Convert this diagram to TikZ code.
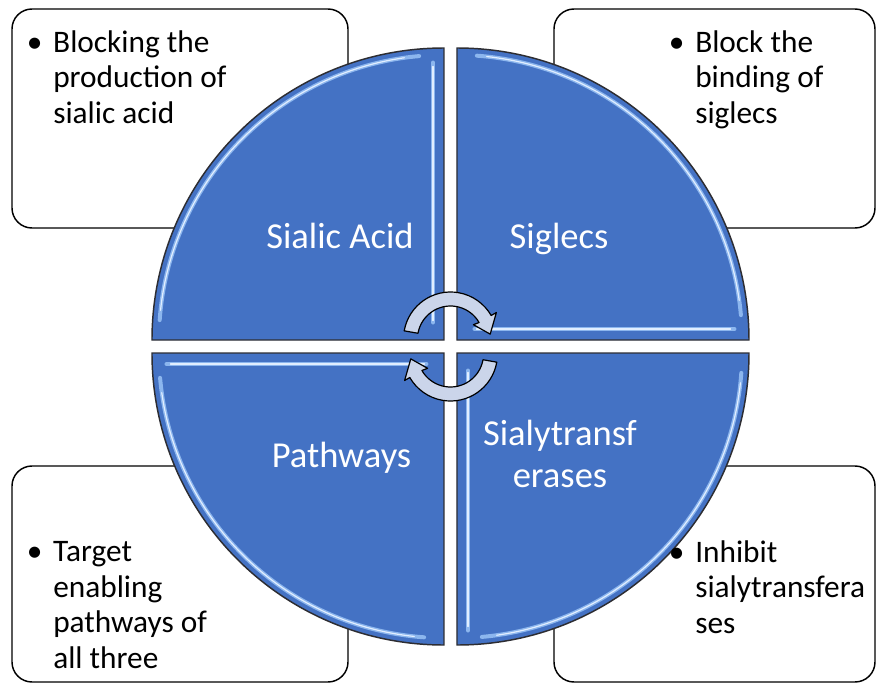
\documentclass[tikz,border=0pt]{standalone}
\usepackage{fontspec}
\setmainfont{Carlito}
\usetikzlibrary{calc}

\definecolor{quadblue}{RGB}{68,114,196}
\definecolor{quadlight}{RGB}{140,182,238}
\definecolor{quadshine}{RGB}{225,238,255}
\definecolor{quadedge}{RGB}{45,45,50}
\definecolor{arrowfill}{RGB}{203,213,234}

\tikzset{
    notebox/.style={draw=black, line width=1.1pt, fill=white, rounded corners=15pt},
    notetext/.style={anchor=base west, inner sep=0pt, align=left,
        font=\fontsize{23.5}{26.6}\selectfont},
    quadlabel/.style={anchor=base, inner sep=0pt, align=center, text=white,
        font=\fontsize{27.4}{31.5}\selectfont},
    quadrant/.style={draw=quadedge, line width=1.1pt, fill=quadblue},
    bevel/.style={draw=quadlight, line width=3pt, line cap=round},
    shine/.style={draw=quadshine, line width=0.9pt, line cap=round},
    cyclearrow/.style={draw=black, line width=0.9pt, fill=arrowfill, line join=round},
}
\newcommand{\bul}{\llap{\textbullet\hspace{8pt}}}

\begin{document}
\begin{tikzpicture}[x=0.75pt, y=0.75pt]
    \useasboundingbox (-450.5,-336.5) rectangle (425.5,346.5);

    % the four note boxes behind the wheel
    \draw[notebox] (-438.5,337.5) rectangle (-102.5,118.5);
    \draw[notebox] (103.5,337.5) rectangle (424.5,118.5);
    \draw[notebox] (-438.5,-119.5) rectangle (-102.5,-335.5);
    \draw[notebox] (103.5,-119.5) rectangle (424.5,-335.5);

    % wheel: one quarter turned four times
    \foreach \a in {0, 90, 180, 270} {
        \begin{scope}[rotate=\a]
            \draw[quadrant] (6.5,6.5) -- (298.5,6.5) arc (0:90:292) -- cycle;
            \draw[bevel] (24,17.5) -- (284,17.5);
            \draw[shine] (26,17.5) -- (280,17.5);
            \draw[bevel] ([shift={(5:285)}]6.5,6.5) arc (5:86:285);
            \draw[shine] ([shift={(8:285)}]6.5,6.5) arc (8:84:285);
        \end{scope}
    }

    % notes (placed by the baseline of their last line)
    \node[notetext] (acidnote) at (-397.5,223.5)
        {\bul Blocking the\\production of\\sialic acid};
    \node[notetext] (siglecnote) at (244.5,223.5)
        {\bul Block the\\binding of\\siglecs};
    \node[notetext] (pathnote) at (-397.5,-321.5)
        {\bul Target\\enabling\\pathways of\\all three};
    \node[notetext] (transfnote) at (244.5,-286.5)
        {\bul Inhibit\\sialytransfera\\ses};

    % quarter labels
    \node[quadlabel] (acid) at (-110.5,98.5) {Sialic Acid};
    \node[quadlabel] (siglecs) at (108.5,98.5) {Siglecs};
    \node[quadlabel] (paths) at (-109,-120.5) {Pathways};
    \node[quadlabel] (transf) at (109.5,-140.5) {Sialytransf\\erases};

    % turning arrows in the middle
    \foreach \a in {0, 180} {
        \begin{scope}[rotate=\a]
            \draw[cyclearrow] ([shift={(170:47)}]0,7.5) arc (170:30:47)
                -- ([shift={(30:53)}]0,7.5) -- ([shift={(7:40)}]0,7.5)
                -- ([shift={(32:27)}]0,7.5) -- ([shift={(30:33)}]0,7.5)
                arc (30:170:33) -- cycle;
        \end{scope}
    }
\end{tikzpicture}
\end{document}
